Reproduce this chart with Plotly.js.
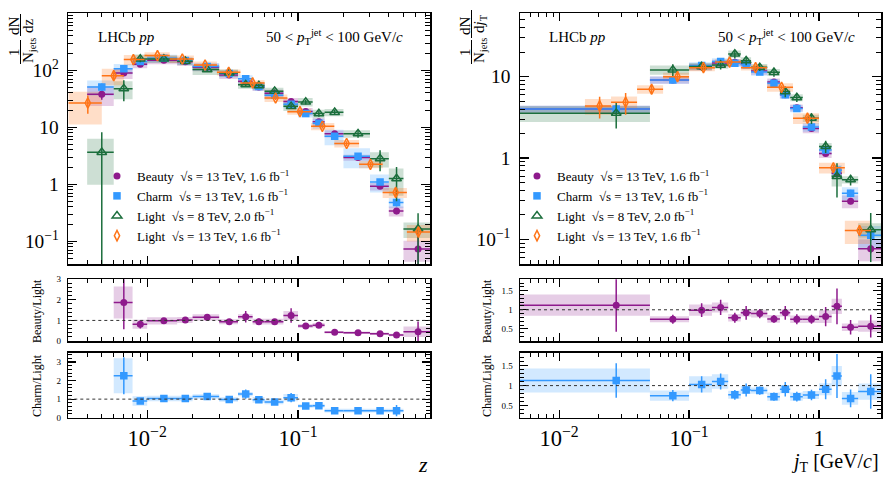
<!DOCTYPE html>
<html><head><meta charset="utf-8">
<script src="https://cdn.plot.ly/plotly-3.0.1.min.js"></script>
<style>html,body{margin:0;padding:0;background:#fff}</style>
</head><body><div id="chart" style="width:889px;height:482px"></div>
<script>
// ---------------- DATA ----------------
// z distributions (left)
const zEdgesHF = [0.004, 0.006, 0.008, 0.01, 0.0158, 0.02, 0.03, 0.04, 0.05, 0.06, 0.08, 0.1, 0.125, 0.15, 0.2, 0.3, 0.4, 0.5, 0.75];
const zCentHF  = [0.005, 0.007, 0.009, 0.0129, 0.0179, 0.025, 0.035, 0.045, 0.055, 0.07, 0.09, 0.1125, 0.1375, 0.175, 0.25, 0.35, 0.45, 0.625];
const zEdges13 = [0.003, 0.005, 0.007, 0.0096, 0.0141, 0.0204, 0.029, 0.0415, 0.06, 0.085, 0.122, 0.174, 0.254, 0.364, 0.527, 0.75];
const zCent13  = [0.00404, 0.006, 0.0081, 0.0117, 0.0171, 0.0242, 0.0347, 0.05, 0.071, 0.103, 0.145, 0.21, 0.302, 0.444, 0.628];

const zBeauty     = [38, 90, 128, 150, 141, 113, 83, 64, 51, 39.5, 28.5, 19, 12.5, 7.7, 2.94, 0.92, 0.34, 0.073];
const zBeautyStat = [0.2, 0.12, 0.08, 0.05, 0.05, 0.05, 0.06, 0.07, 0.08, 0.08, 0.1, 0.1, 0.1, 0.1, 0.1, 0.1, 0.12, 0.9];
const zBeautySyst = [0.38, 0.22, 0.15, 0.15, 0.15, 0.15, 0.15, 0.15, 0.15, 0.15, 0.15, 0.15, 0.15, 0.14, 0.12, 0.15, 0.2, 0.4];

const zCharm      = [51, 107, 142, 163, 148, 117, 88, 71, 52, 36.5, 25.5, 17.5, 11.8, 6.95, 3.1, 1.1, 0.48];
const zCharmStat  = [0.15, 0.1, 0.06, 0.05, 0.05, 0.05, 0.06, 0.07, 0.08, 0.08, 0.1, 0.1, 0.1, 0.1, 0.1, 0.12, 0.15];
const zCharmSyst  = [0.3, 0.2, 0.15, 0.15, 0.15, 0.15, 0.15, 0.15, 0.15, 0.15, 0.15, 0.15, 0.2, 0.3, 0.38, 0.35, 0.2];

const zLight8     = [3.64, 47.7, 158, 158, 144, 103, 90, 56, 54, 43, 23.3, 27.8, 17.4, 18.3, 7.74, 2.82, 1.26, 0.164];
const zLight8Stat = [1.25, 0.4, 0.12, 0.06, 0.06, 0.06, 0.06, 0.08, 0.08, 0.08, 0.1, 0.1, 0.12, 0.1, 0.15, 0.4, 0.6, 0.9];
const zLight8Syst = [0.73, 0.35, 0.2, 0.15, 0.15, 0.2, 0.15, 0.15, 0.15, 0.15, 0.17, 0.17, 0.17, 0.15, 0.15, 0.3, 0.5, 0.3];

const zLight13     = [26.7, 80.6, 154, 181, 158, 124, 92, 60, 32.7, 18.8, 10.4, 5.2, 2.24, 0.72, 0.146];
const zLight13Stat = [0.35, 0.15, 0.08, 0.06, 0.05, 0.05, 0.06, 0.06, 0.08, 0.08, 0.08, 0.1, 0.1, 0.15, 0.2];
const zLight13Syst = [0.58, 0.32, 0.2, 0.15, 0.15, 0.15, 0.12, 0.12, 0.15, 0.12, 0.15, 0.15, 0.15, 0.2, 0.32];

const zRatioBeauty     = [1.87, 0.81, 0.98, 1.02, 1.15, 0.94, 1.18, 0.94, 0.94, 1.24, 0.73, 0.77, 0.42, 0.40, 0.35, 0.29, 0.45];
const zRatioBeautyStat = [1.3, 0.2, 0.1, 0.1, 0.12, 0.1, 0.28, 0.15, 0.12, 0.35, 0.12, 0.12, 0.05, 0.05, 0.06, 0.1, 0.5];
const zRatioBeautySyst = [0.78, 0.22, 0.18, 0.15, 0.15, 0.12, 0.12, 0.14, 0.14, 0.22, 0.1, 0.1, 0.06, 0.06, 0.06, 0.06, 0.25];

const zRatioCharm     = [2.26, 0.90, 1.03, 1.03, 1.14, 0.98, 1.27, 0.96, 0.85, 1.08, 0.63, 0.65, 0.38, 0.38, 0.38, 0.38];
const zRatioCharmStat = [1.0, 0.15, 0.08, 0.08, 0.08, 0.08, 0.25, 0.15, 0.1, 0.25, 0.08, 0.1, 0.05, 0.05, 0.12, 0.3];
const zRatioCharmSyst = [0.94, 0.25, 0.15, 0.15, 0.12, 0.12, 0.12, 0.15, 0.12, 0.2, 0.1, 0.1, 0.1, 0.1, 0.1, 0.1];

// jT distributions (right)
const jEdges   = [0.005, 0.05, 0.1, 0.15, 0.2, 0.25, 0.3, 0.4, 0.5, 0.6, 0.75, 1.0, 1.25, 1.5, 2.0, 3.0];
const jCent    = [0.0275, 0.075, 0.125, 0.175, 0.225, 0.275, 0.35, 0.45, 0.55, 0.675, 0.875, 1.125, 1.375, 1.75, 2.5];
const jEdges13 = [0.0158, 0.0251, 0.0398, 0.0631, 0.1, 0.158, 0.251, 0.398, 0.631, 1.0, 1.58, 2.51];
const jCent13  = [0.0205, 0.0325, 0.0515, 0.0815, 0.129, 0.205, 0.325, 0.515, 0.815, 1.29, 2.05];

const jBeauty     = [4.0, 9.1, 13.2, 14.7, 15.0, 14.4, 11.7, 8.6, 6.0, 4.15, 2.3, 1.14, 0.65, 0.295, 0.077];
const jBeautyStat = [0.05, 0.05, 0.04, 0.04, 0.04, 0.04, 0.04, 0.05, 0.05, 0.05, 0.05, 0.06, 0.08, 0.08, 0.12];
const jBeautySyst = [0.1, 0.1, 0.1, 0.1, 0.1, 0.1, 0.1, 0.1, 0.1, 0.1, 0.12, 0.12, 0.15, 0.18, 0.3];

const jCharm      = [4.0, 9.1, 13.7, 15.3, 14.6, 14.0, 11.4, 8.3, 6.0, 4.05, 2.4, 1.26, 0.71, 0.37, 0.113];
const jCharmStat  = [0.04, 0.04, 0.04, 0.04, 0.04, 0.04, 0.04, 0.05, 0.05, 0.05, 0.05, 0.06, 0.08, 0.1, 0.15];
const jCharmSyst  = [0.1, 0.1, 0.1, 0.1, 0.1, 0.1, 0.1, 0.1, 0.1, 0.1, 0.12, 0.12, 0.15, 0.18, 0.3];

const jLight8     = [3.56, 12.1, 13.3, 13.9, 19.0, 15.7, 13.0, 11.3, 6.55, 5.53, 3.09, 1.39, 0.597, 0.543, 0.132];
const jLight8Stat = [0.35, 0.17, 0.12, 0.12, 0.12, 0.12, 0.1, 0.12, 0.15, 0.12, 0.15, 0.17, 0.45, 0.15, 0.6];
const jLight8Syst = [0.22, 0.13, 0.1, 0.1, 0.1, 0.1, 0.1, 0.1, 0.1, 0.1, 0.1, 0.1, 0.25, 0.1, 0.2];

const jLight13     = [4.37, 4.85, 7.0, 10.0, 12.9, 15.1, 12.9, 7.4, 3.09, 0.76, 0.129];
const jLight13Stat = [0.3, 0.3, 0.12, 0.1, 0.08, 0.06, 0.06, 0.06, 0.08, 0.1, 0.12];
const jLight13Syst = [0.22, 0.18, 0.12, 0.12, 0.1, 0.08, 0.08, 0.12, 0.15, 0.15, 0.32];

const jRatioBeauty     = [1.12, 0.75, 0.99, 1.06, 0.79, 0.92, 0.90, 0.76, 0.92, 0.75, 0.75, 0.82, 1.09, 0.54, 0.57];
const jRatioBeautyStat = [0.7, 0.12, 0.18, 0.2, 0.13, 0.18, 0.12, 0.1, 0.18, 0.13, 0.12, 0.25, 0.47, 0.19, 0.3];
const jRatioBeautySyst = [0.28, 0.08, 0.15, 0.13, 0.1, 0.1, 0.1, 0.1, 0.1, 0.1, 0.1, 0.17, 0.2, 0.1, 0.15];

const jRatioCharm     = [1.125, 0.75, 1.03, 1.1, 0.77, 0.89, 0.875, 0.725, 0.91, 0.725, 0.767, 0.91, 1.24, 0.68, 0.85];
const jRatioCharmStat = [0.43, 0.14, 0.2, 0.2, 0.12, 0.16, 0.1, 0.1, 0.18, 0.12, 0.13, 0.25, 0.55, 0.22, 0.43];
const jRatioCharmSyst = [0.3, 0.13, 0.2, 0.18, 0.1, 0.1, 0.08, 0.1, 0.1, 0.1, 0.1, 0.15, 0.25, 0.16, 0.2];

const seriesNames = {
  beauty: 'Beauty  √s = 13 TeV, 1.6 fb<sup>−1</sup>',
  charm: 'Charm  √s = 13 TeV, 1.6 fb<sup>−1</sup>',
  light8: 'Light  √s = 8 TeV, 2.0 fb<sup>−1</sup>',
  light13: 'Light  √s = 13 TeV, 1.6 fb<sup>−1</sup>'
};

// ---------------- STYLE ----------------
const FONT = 'Liberation Serif, Times New Roman, serif';
const COL  = {beauty:'#8e1a8c', charm:'#3399ff', light8:'#1b6e3c', light13:'#ff7417'};
const FILL = {beauty:'rgba(142,26,140,0.22)', charm:'rgba(51,153,255,0.22)', light8:'rgba(27,110,60,0.22)', light13:'rgba(255,116,23,0.24)'};
const SYM  = {beauty:'circle', charm:'square', light8:'triangle-up-open', light13:'diamond-tall-open'};
const MSZ  = {beauty:7, charm:7.5, light8:8.5, light13:7.5};
const RANK = {beauty:1, charm:2, light8:3, light13:4};

const traces = [];
const shapes = [];

function addSeries(key, xc, edges, vals, stat, syst, xa, ya, logY, legend, showlegend) {
  const lo = vals.map((v,i) => edges[i]);
  const hi = vals.map((v,i) => edges[i+1]);
  const up = vals.map((v,i) => logY ? v*stat[i] : stat[i]);
  const dn = vals.map((v,i) => logY ? Math.min(v*stat[i], v*0.999) : stat[i]);
  traces.push({
    type:'scatter', mode:'markers', x: xc, y: vals, xaxis: xa, yaxis: ya,
    name: seriesNames[key], legend: legend, showlegend: showlegend, legendrank: RANK[key],
    marker:{symbol: SYM[key], size: MSZ[key], color: COL[key], line:{color: COL[key], width: SYM[key].indexOf('open')>=0 ? 1.5 : 0}},
    error_x:{type:'data', symmetric:false, array: hi.map((h,i)=>h-xc[i]), arrayminus: lo.map((l,i)=>xc[i]-l), color: COL[key], thickness:1.5, width:0},
    error_y:{type:'data', symmetric:false, array: up, arrayminus: dn, color: COL[key], thickness:1.5, width:0},
    hoverinfo:'x+y'
  });
  vals.forEach((v,i) => {
    shapes.push({type:'rect', xref: xa, yref: ya, layer:'below',
      x0: lo[i], x1: hi[i],
      y0: logY ? v*(1-syst[i]) : v-syst[i], y1: logY ? v*(1+syst[i]) : v+syst[i],
      fillcolor: FILL[key], line:{width:0}});
  });
}

// left main
addSeries('beauty', zCentHF, zEdgesHF, zBeauty, zBeautyStat, zBeautySyst, 'x', 'y', true, 'legend', true);
addSeries('charm', zCentHF.slice(0,17), zEdgesHF.slice(0,18), zCharm, zCharmStat, zCharmSyst, 'x', 'y', true, 'legend', true);
addSeries('light8', zCentHF, zEdgesHF, zLight8, zLight8Stat, zLight8Syst, 'x', 'y', true, 'legend', true);
addSeries('light13', zCent13, zEdges13, zLight13, zLight13Stat, zLight13Syst, 'x', 'y', true, 'legend', true);
// left ratios
addSeries('beauty', zCentHF.slice(1), zEdgesHF.slice(1), zRatioBeauty, zRatioBeautyStat, zRatioBeautySyst, 'x2', 'y2', false, 'legend', false);
addSeries('charm', zCentHF.slice(1,17), zEdgesHF.slice(1,18), zRatioCharm, zRatioCharmStat, zRatioCharmSyst, 'x3', 'y3', false, 'legend', false);
// right main
addSeries('beauty', jCent, jEdges, jBeauty, jBeautyStat, jBeautySyst, 'x4', 'y4', true, 'legend2', true);
addSeries('charm', jCent, jEdges, jCharm, jCharmStat, jCharmSyst, 'x4', 'y4', true, 'legend2', true);
addSeries('light8', jCent, jEdges, jLight8, jLight8Stat, jLight8Syst, 'x4', 'y4', true, 'legend2', true);
addSeries('light13', jCent13, jEdges13, jLight13, jLight13Stat, jLight13Syst, 'x4', 'y4', true, 'legend2', true);
// right ratios
addSeries('beauty', jCent, jEdges, jRatioBeauty, jRatioBeautyStat, jRatioBeautySyst, 'x5', 'y5', false, 'legend2', false);
addSeries('charm', jCent, jEdges, jRatioCharm, jRatioCharmStat, jRatioCharmSyst, 'x6', 'y6', false, 'legend2', false);

// reference lines at 1
[['x2','y2'],['x3','y3'],['x5','y5'],['x6','y6']].forEach(([xa,ya]) => {
  shapes.push({type:'line', xref: xa+' domain', x0:0, x1:1, yref: ya, y0:1, y1:1, layer:'above',
    line:{color:'#333', width:1, dash:'dot'}});
});

// ---------------- LAYOUT ----------------
const W = 889, H = 482;
const px = v => v / W, py = v => 1 - v / H;
const XL = [px(68.3), px(430)], XR = [px(520), px(881)];
const YM = [py(264), py(13.3)], YB = [py(341), py(279.3)], YC = [py(417.7), py(352.7)];

function logX(domain, range, anchor, labels) {
  return {type:'log', domain, range, anchor, showline:true, linecolor:'#000', linewidth:1.5, mirror:'allticks',
    ticks:'inside', ticklen:8, tickwidth:1.2, tickcolor:'#000', dtick:1, exponentformat:'power',
    showticklabels: labels, ticklabelstandoff:1, tickfont:{family:FONT, size:18, color:'#000'},
    showgrid:false, zeroline:false,
    minor:{ticks:'inside', ticklen:4, tickwidth:1, tickcolor:'#000', dtick:'D1', showgrid:false}};
}
function logY(domain, range, anchor) {
  return {type:'log', domain, range, anchor, showline:true, linecolor:'#000', linewidth:1.5, mirror:'allticks',
    ticks:'inside', ticklen:9, tickwidth:1.2, tickcolor:'#000', dtick:1, exponentformat:'power',
    ticklabelstandoff:5, tickfont:{family:FONT, size:15.5, color:'#000'}, showgrid:false, zeroline:false,
    minor:{ticks:'inside', ticklen:5, tickwidth:1, tickcolor:'#000', dtick:'D1', showgrid:false}};
}
function linY(domain, range, anchor, tickvals, minorD) {
  return {type:'linear', domain, range, anchor, showline:true, linecolor:'#000', linewidth:1.5, mirror:'allticks',
    ticks:'inside', ticklen:8, tickwidth:1.2, tickcolor:'#000', tickmode:'array', tickvals: tickvals,
    ticklabelstandoff:4, tickfont:{family:FONT, size:9, color:'#000'}, showgrid:false, zeroline:false,
    minor:{ticks:'inside', ticklen:4, tickwidth:1, tickcolor:'#000', dtick:minorD, showgrid:false}};
}

const zr = [-2.523, -0.125], jr = [-2.301, 0.477];
const ann = [];
function A(text, x, y, size, opts) {
  ann.push(Object.assign({text, x: px(x), y: py(y), xref:'paper', yref:'paper', showarrow:false,
    font:{family:FONT, size, color:'#000'}, xanchor:'center', yanchor:'middle'}, opts||{}));
}
// panel labels
A('LHCb <i>pp</i>', 96, 37, 15, {xanchor:'left'});
A('50 &lt; <i>p</i><sub>T</sub><sup>jet</sup> &lt; 100 GeV/<i>c</i>', 405, 37, 15, {xanchor:'right'});
A('LHCb <i>pp</i>', 547, 37, 15, {xanchor:'left'});
A('50 &lt; <i>p</i><sub>T</sub><sup>jet</sup> &lt; 100 GeV/<i>c</i>', 857, 37, 15, {xanchor:'right'});
// x titles
A('<i>z</i>', 423, 464, 22);
A('<i>j</i><sub>T</sub> [GeV/<i>c</i>]', 881, 462, 20, {xanchor:'right'});
// y titles main (fractions)
A('1', 14, 52, 15, {textangle:-90});
A('N<sub>jets</sub>', 29, 51, 15, {textangle:-90});
A('dN', 14, 26, 15, {textangle:-90});
A('dz', 28, 26, 15, {textangle:-90});
A('1', 465, 52, 15, {textangle:-90});
A('N<sub>jets</sub>', 480, 51, 15, {textangle:-90});
A('dN', 465, 26, 15, {textangle:-90});
A('d<i>j</i><sub>T</sub>', 480, 24, 15, {textangle:-90});
// ratio y titles
A('Beauty/Light', 37, 311, 12, {textangle:-90});
A('Charm/Light', 37, 386, 12, {textangle:-90});
A('Beauty/Light', 487, 311, 12, {textangle:-90});
A('Charm/Light', 487, 386, 12, {textangle:-90});

// fraction bars
[[20.5, 40, 64], [20.5, 14, 36], [471.5, 40, 64], [471.5, 10, 38]].forEach(([x, y0, y1]) => {
  shapes.push({type:'line', xref:'paper', yref:'paper', x0:px(x), x1:px(x), y0:py(y0), y1:py(y1), line:{color:'#000', width:1}});
});

const legendStyle = {font:{family:FONT, size:13, color:'#000'}, bgcolor:'rgba(0,0,0,0)', borderwidth:0,
  itemwidth:30, tracegroupgap:0, traceorder:'normal', xanchor:'left', yanchor:'top'};

const layout = {
  width: W, height: H, autosize:false,
  margin:{l:0, r:0, t:0, b:0, pad:0},
  paper_bgcolor:'#fff', plot_bgcolor:'rgba(0,0,0,0)',
  font:{family:FONT, color:'#000'},
  showlegend:true,
  legend: Object.assign({x: px(97), y: py(161)}, legendStyle),
  legend2: Object.assign({x: px(517), y: py(161)}, legendStyle),
  xaxis:  logX(XL, zr, 'y', false),
  yaxis:  logY(YM, [-1.398, 3], 'x'),
  xaxis2: logX(XL, zr, 'y2', false),
  yaxis2: linY(YB, [0, 3], 'x2', [0,1,2,3], 0.2),
  xaxis3: logX(XL, zr, 'y3', true),
  yaxis3: linY(YC, [0, 3.5], 'x3', [0,1,2,3], 0.2),
  xaxis4: logX(XR, jr, 'y4', false),
  yaxis4: logY(YM, [-1.301, 1.778], 'x4'),
  xaxis5: logX(XR, jr, 'y5', false),
  yaxis5: linY(YB, [0.18, 1.8], 'x5', [0.5,1,1.5], 0.1),
  xaxis6: logX(XR, jr, 'y6', true),
  yaxis6: linY(YC, [0.2, 1.82], 'x6', [0.5,1,1.5], 0.1),
  shapes: shapes,
  annotations: ann
};

Plotly.newPlot('chart', traces, layout, {displayModeBar:false, staticPlot:true});
</script></body></html>
